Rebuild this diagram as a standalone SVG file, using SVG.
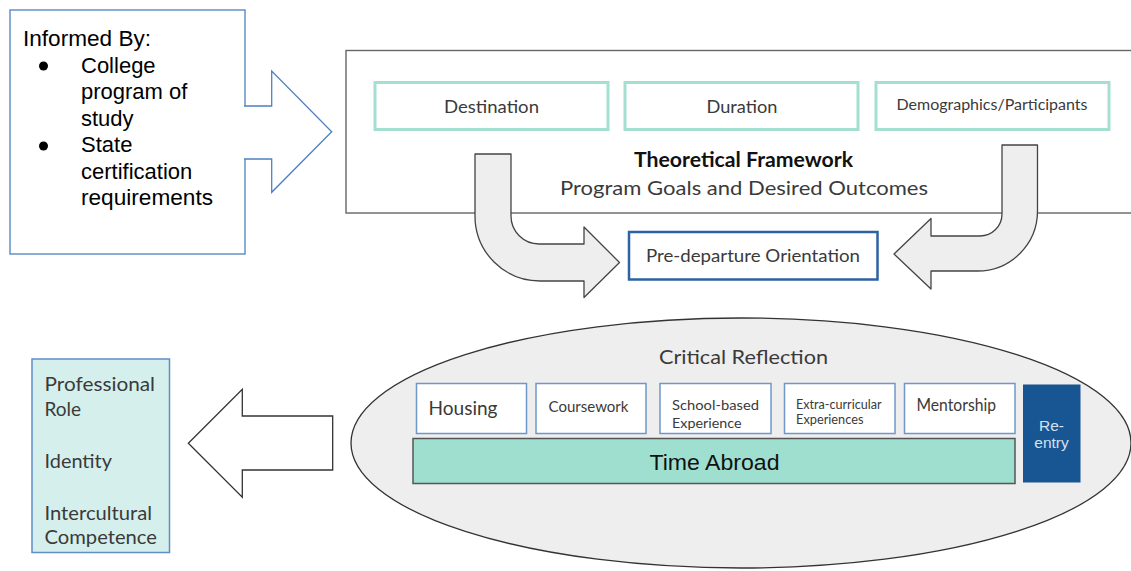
<svg xmlns="http://www.w3.org/2000/svg" width="1131" height="571" viewBox="0 0 1131 571">
<style>
.r{font-family:Lato,"Noto Sans",sans-serif;fill:#3a3a3a}
.a{font-family:"Liberation Sans",Arial,sans-serif;fill:#000}
.teal{fill:#fff;stroke:#a3e0d2;stroke-width:3}
.sb{fill:#fff;stroke:#6f98c8;stroke-width:1.5}
.ca{fill:#eeeeee;stroke:#444;stroke-width:1.3;stroke-linejoin:round}
</style>
<rect width="1131" height="571" fill="#fff"/>

<g id="informed-by">
<rect x="10" y="10" width="235" height="244" fill="#fff" stroke="#4e81bd" stroke-width="1.3"/>
<text class="a" font-size="22" x="23" y="46" textLength="128" lengthAdjust="spacingAndGlyphs">Informed By:</text>
<circle cx="43.5" cy="66" r="4.5" fill="#000"/>
<circle cx="43.5" cy="146" r="4.5" fill="#000"/>
<text class="a" font-size="22" x="81" y="72.5">College</text>
<text class="a" font-size="22" x="81" y="99">program of</text>
<text class="a" font-size="22" x="81" y="125.5">study</text>
<text class="a" font-size="22" x="81" y="152">State</text>
<text class="a" font-size="22" x="81" y="178.5">certification</text>
<text class="a" font-size="22" x="81" y="205" textLength="132" lengthAdjust="spacingAndGlyphs">requirements</text>
</g>

<g id="theoretical-framework">
<rect x="346" y="50.5" width="800" height="162.5" fill="#fff" stroke="#666" stroke-width="1.4"/>
<text class="r" font-size="20" font-weight="bold" x="743.5" y="167" text-anchor="middle" style="fill:#111" textLength="219" lengthAdjust="spacingAndGlyphs">Theoretical Framework</text>
<text class="r" font-size="20" x="744" y="195" text-anchor="middle" textLength="368" lengthAdjust="spacingAndGlyphs">Program Goals and Desired Outcomes</text>
</g>

<g id="destination">
<rect class="teal" x="375" y="82.5" width="233" height="47"/>
<text class="r" font-size="18" x="491.5" y="112.5" text-anchor="middle" textLength="95" lengthAdjust="spacingAndGlyphs">Destination</text>
</g>
<g id="duration">
<rect class="teal" x="625" y="82.5" width="233" height="47"/>
<text class="r" font-size="18" x="742" y="112.5" text-anchor="middle" textLength="71" lengthAdjust="spacingAndGlyphs">Duration</text>
</g>
<g id="demographics">
<rect class="teal" x="876" y="82.5" width="233" height="47"/>
<text class="r" font-size="15.5" x="992" y="110" text-anchor="middle" textLength="191" lengthAdjust="spacingAndGlyphs">Demographics/Participants</text>
</g>

<g id="pre-departure">
<rect x="629" y="232" width="248.5" height="47.5" fill="#fff" stroke="#2d62a3" stroke-width="2.5"/>
<text class="r" font-size="18" x="753" y="261.5" text-anchor="middle" textLength="214" lengthAdjust="spacingAndGlyphs">Pre-departure Orientation</text>
</g>

<g id="critical-reflection">
<ellipse cx="741" cy="443" rx="390" ry="125" fill="#eeeeee" stroke="#333" stroke-width="1.3"/>
<text class="r" font-size="20" x="743.5" y="364" text-anchor="middle" textLength="169" lengthAdjust="spacingAndGlyphs">Critical Reflection</text>
</g>

<g id="housing">
<rect class="sb" x="416.5" y="383.5" width="110" height="50"/>
<text class="r" font-size="18.5" x="428.5" y="415" textLength="69" lengthAdjust="spacingAndGlyphs">Housing</text>
</g>
<g id="coursework">
<rect class="sb" x="536" y="383.5" width="110" height="50"/>
<text class="r" font-size="15.5" x="548.5" y="411.5" textLength="80" lengthAdjust="spacingAndGlyphs">Coursework</text>
</g>
<g id="school-based">
<rect class="sb" x="660" y="383.5" width="111" height="50"/>
<text class="r" font-size="14" x="672" y="410" textLength="87" lengthAdjust="spacingAndGlyphs">School-based</text>
<text class="r" font-size="14" x="672" y="427.5" textLength="69.5" lengthAdjust="spacingAndGlyphs">Experience</text>
</g>
<g id="extra-curricular">
<rect class="sb" x="784.5" y="383.5" width="110.5" height="50"/>
<text class="r" font-size="12.5" x="796" y="408.5" textLength="85.5" lengthAdjust="spacingAndGlyphs">Extra-curricular</text>
<text class="r" font-size="12.5" x="796" y="423.5" textLength="67.5" lengthAdjust="spacingAndGlyphs">Experiences</text>
</g>
<g id="mentorship">
<rect class="sb" x="904.5" y="383.5" width="110.5" height="50"/>
<text class="r" font-size="16.5" x="916.5" y="411" textLength="79.5" lengthAdjust="spacingAndGlyphs">Mentorship</text>
</g>

<g id="time-abroad">
<rect x="413" y="438.5" width="602" height="45" fill="#9fdfcf" stroke="#555" stroke-width="1.5"/>
<text class="a" font-size="22.5" x="714.5" y="470" text-anchor="middle" style="fill:#111" textLength="130" lengthAdjust="spacingAndGlyphs">Time Abroad</text>
</g>

<g id="re-entry">
<rect x="1023" y="384.5" width="57.5" height="98" fill="#175593"/>
<text class="a" font-size="15.5" x="1051.5" y="431" text-anchor="middle" style="fill:#d3e2f1">Re-</text>
<text class="a" font-size="15.5" x="1051.5" y="448" text-anchor="middle" style="fill:#d3e2f1">entry</text>
</g>

<g id="outcomes">
<rect x="32" y="359" width="137.5" height="193.5" fill="#d5efec" stroke="#5f8fc5" stroke-width="1.5"/>
<text class="r" font-size="19" x="44.5" y="391" textLength="110.5" lengthAdjust="spacingAndGlyphs">Professional</text>
<text class="r" font-size="19" x="44.5" y="415.5">Role</text>
<text class="r" font-size="19" x="44.5" y="468" textLength="67.5" lengthAdjust="spacingAndGlyphs">Identity</text>
<text class="r" font-size="19" x="44.5" y="520" textLength="107.5" lengthAdjust="spacingAndGlyphs">Intercultural</text>
<text class="r" font-size="19" x="44.5" y="543.5" textLength="112.5" lengthAdjust="spacingAndGlyphs">Competence</text>
</g>

<g id="connectors">
<path d="M244,106 L271.7,106 L271.7,71 L331.7,131.7 L271.7,192.3 L271.7,159 L244,159" fill="#fff" stroke="#4e81bd" stroke-width="1.3" stroke-linejoin="miter"/>
<path class="ca" d="M475,154 L511,154 L511,216 A28,28 0 0 0 539,244 L584,244 L584,227 L619.5,262.5 L584,297.5 L584,281 L540,281 A65,65 0 0 1 475,216 Z"/>
<path class="ca" d="M1002,145 L1037.5,145 L1037.5,211 A60,60 0 0 1 977.5,271 L931,271 L931,289 L894,254 L931,218.5 L931,236 L980,236 A22,22 0 0 0 1002,214 Z"/>
<path d="M332.7,416 L242.3,416 L242.3,389.3 L188.3,443.3 L242.3,497.3 L242.3,470 L332.7,470 Z" fill="#fff" stroke="#333" stroke-width="1.3"/>
</g>
</svg>
